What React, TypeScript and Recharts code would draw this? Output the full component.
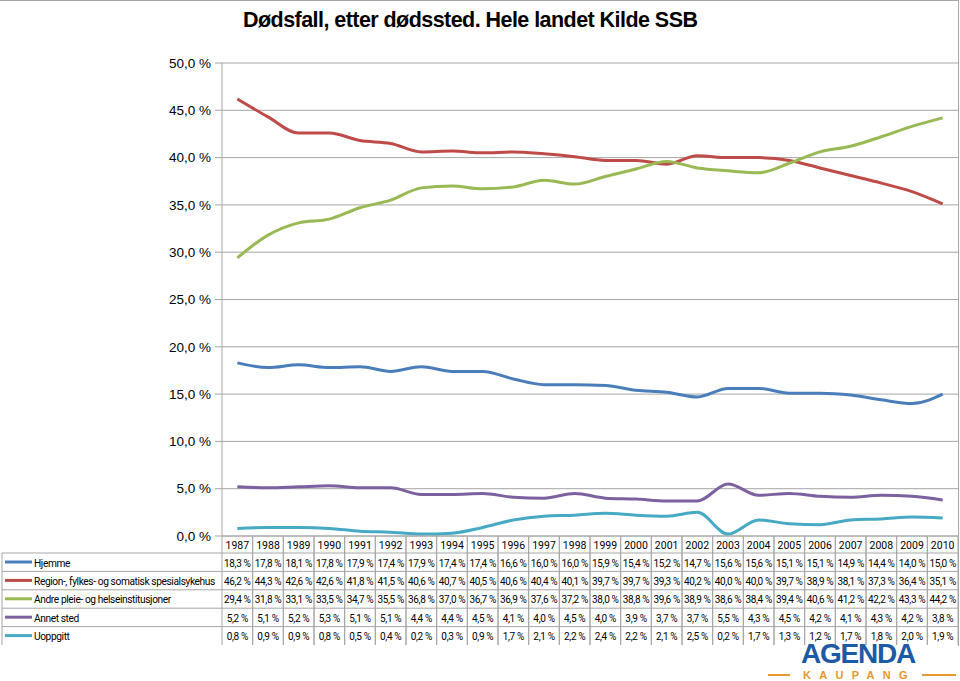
import React from 'react'
import { LineChart, Line, XAxis, YAxis, CartesianGrid } from 'recharts'

const years = ['1987', '1988', '1989', '1990', '1991', '1992', '1993', '1994', '1995', '1996', '1997', '1998',
  '1999', '2000', '2001', '2002', '2003', '2004', '2005', '2006', '2007', '2008', '2009', '2010']

const hjemme = [18.3, 17.8, 18.1, 17.8, 17.9, 17.4, 17.9, 17.4, 17.4, 16.6, 16.0, 16.0,
  15.9, 15.4, 15.2, 14.7, 15.6, 15.6, 15.1, 15.1, 14.9, 14.4, 14.0, 15.0]
const region = [46.2, 44.3, 42.6, 42.6, 41.8, 41.5, 40.6, 40.7, 40.5, 40.6, 40.4, 40.1,
  39.7, 39.7, 39.3, 40.2, 40.0, 40.0, 39.7, 38.9, 38.1, 37.3, 36.4, 35.1]
const andre = [29.4, 31.8, 33.1, 33.5, 34.7, 35.5, 36.8, 37.0, 36.7, 36.9, 37.6, 37.2,
  38.0, 38.8, 39.6, 38.9, 38.6, 38.4, 39.4, 40.6, 41.2, 42.2, 43.3, 44.2]
const annet = [5.2, 5.1, 5.2, 5.3, 5.1, 5.1, 4.4, 4.4, 4.5, 4.1, 4.0, 4.5,
  4.0, 3.9, 3.7, 3.7, 5.5, 4.3, 4.5, 4.2, 4.1, 4.3, 4.2, 3.8]
const uoppgitt = [0.8, 0.9, 0.9, 0.8, 0.5, 0.4, 0.2, 0.3, 0.9, 1.7, 2.1, 2.2,
  2.4, 2.2, 2.1, 2.5, 0.2, 1.7, 1.3, 1.2, 1.7, 1.8, 2.0, 1.9]

const yTicks = [0, 5, 10, 15, 20, 25, 30, 35, 40, 45, 50]

const series = [
  { key: 'hjemme', name: 'Hjemme', values: hjemme, color: '#4A7EBB' },
  { key: 'region', name: 'Region-, fylkes- og somatisk spesialsykehus', values: region, color: '#BE4B48' },
  { key: 'andre', name: 'Andre pleie- og helseinstitusjoner', values: andre, color: '#98B954' },
  { key: 'annet', name: 'Annet sted', values: annet, color: '#7D60A0' },
  { key: 'uoppgitt', name: 'Uoppgitt', values: uoppgitt, color: '#46AAC5' },
]

const data = years.map((year, i) => {
  const row: Record<string, string | number> = { year }
  series.forEach(s => { row[s.key] = s.values[i] })
  return row
})

const pct = (v: number) => v.toFixed(1).replace('.', ',') + ' %'

const GRID = '#a6a6a6'
const SANS = '"Liberation Sans", Arial, sans-serif'
const TABLE_FONT = 'Roboto, sans-serif'
const ROW_H = 18.4
const HEAD_H = 17
const PLOT_W = 736

// each x tick draws one column of the data table (index 0 also draws the legend column)
function TableTick(props: any) {
  const { x, y, payload, index } = props
  const colW = PLOT_W / years.length
  const left = x - colW / 2
  const bottom = y + HEAD_H + ROW_H * series.length
  return (
    <g>
      <line x1={left} y1={y} x2={left} y2={bottom} stroke={GRID} />
      <line x1={left + colW} y1={y} x2={left + colW} y2={bottom} stroke={GRID} />
      <text x={x} y={y + 13} textAnchor="middle" fontSize={10.5} fontFamily={TABLE_FONT} fill="#000">
        {payload.value}
      </text>
      {series.map((s, r) => (
        <g key={s.key}>
          <line x1={left} y1={y + HEAD_H + ROW_H * r} x2={left + colW} y2={y + HEAD_H + ROW_H * r} stroke={GRID} />
          <text x={x} y={y + HEAD_H + ROW_H * r + 13.5} textAnchor="middle" fontSize={10} letterSpacing={-0.35}
            fontFamily={TABLE_FONT} fill="#000">
            {pct(s.values[index])}
          </text>
        </g>
      ))}
      {index === 0 && (
        <g>
          <line x1={2} y1={y + HEAD_H} x2={2} y2={bottom} stroke={GRID} />
          {series.map((s, r) => (
            <g key={s.key}>
              <line x1={2} y1={y + HEAD_H + ROW_H * r} x2={left} y2={y + HEAD_H + ROW_H * r} stroke={GRID} />
              <line x1={5} y1={y + HEAD_H + ROW_H * r + 9} x2={32} y2={y + HEAD_H + ROW_H * r + 9} stroke={s.color} strokeWidth={3} />
              <text x={34} y={y + HEAD_H + ROW_H * r + 13.5} fontSize={10.2} letterSpacing={-0.4}
                fontFamily={TABLE_FONT} fill="#000">
                {s.name}
              </text>
            </g>
          ))}
        </g>
      )}
    </g>
  )
}

export default function App() {
  return (
    <div style={{ position: 'absolute', left: 0, top: 0, width: 960, height: 681, background: '#fff', overflow: 'hidden' }}>
      <div style={{ position: 'absolute', left: 0, top: 0, width: 958, height: 645, borderTop: `1px solid ${GRID}`, borderRight: `1px solid ${GRID}` }} />
      <div
        style={{
          position: 'absolute', left: 243, top: 8, fontFamily: SANS,
          fontWeight: 'bold', fontSize: 21.5, color: '#000', letterSpacing: -0.55, whiteSpace: 'nowrap',
        }}
      >
        Dødsfall, etter dødssted. Hele landet Kilde SSB
      </div>
      <LineChart width={960} height={681} data={data} margin={{ top: 63, right: 2, left: 0, bottom: 0 }}>
        <CartesianGrid horizontal vertical={false} stroke={GRID} />
        <XAxis
          dataKey="year"
          height={145}
          interval={0}
          tickSize={0}
          tickMargin={0}
          padding={{ left: PLOT_W / years.length / 2, right: PLOT_W / years.length / 2 }}
          axisLine={{ stroke: GRID }}
          tickLine={false}
          tick={<TableTick />}
        />
        <YAxis
          width={222}
          domain={[0, 50]}
          ticks={yTicks}
          tickFormatter={(v: number) => pct(v)}
          axisLine={{ stroke: GRID }}
          tickLine={{ stroke: GRID }}
          tickSize={7}
          tickMargin={4}
          tick={{ fontSize: 13.5, fill: '#000', fontFamily: SANS }}
        />
        {series.map(s => (
          <Line
            key={s.key}
            type="monotone"
            dataKey={s.key}
            name={s.name}
            stroke={s.color}
            strokeWidth={3}
            dot={false}
            isAnimationActive={false}
          />
        ))}
      </LineChart>
      <div
        style={{
          position: 'absolute', left: 801, top: 644, fontFamily: SANS,
          fontWeight: 'bold', fontSize: 28, color: '#1B5AA5', lineHeight: '20px', letterSpacing: -1.2,
        }}
      >
        AGENDA
      </div>
      <div style={{ position: 'absolute', left: 768, top: 674, width: 22, height: 2, background: '#E8962E' }} />
      <div style={{ position: 'absolute', left: 922, top: 674, width: 34, height: 2, background: '#E8962E' }} />
      <div
        style={{
          position: 'absolute', left: 803, top: 669, fontFamily: SANS,
          fontWeight: 'bold', fontSize: 11, color: '#E8962E', letterSpacing: 8.3, lineHeight: '12px',
        }}
      >
        KAUPANG
      </div>
    </div>
  )
}
